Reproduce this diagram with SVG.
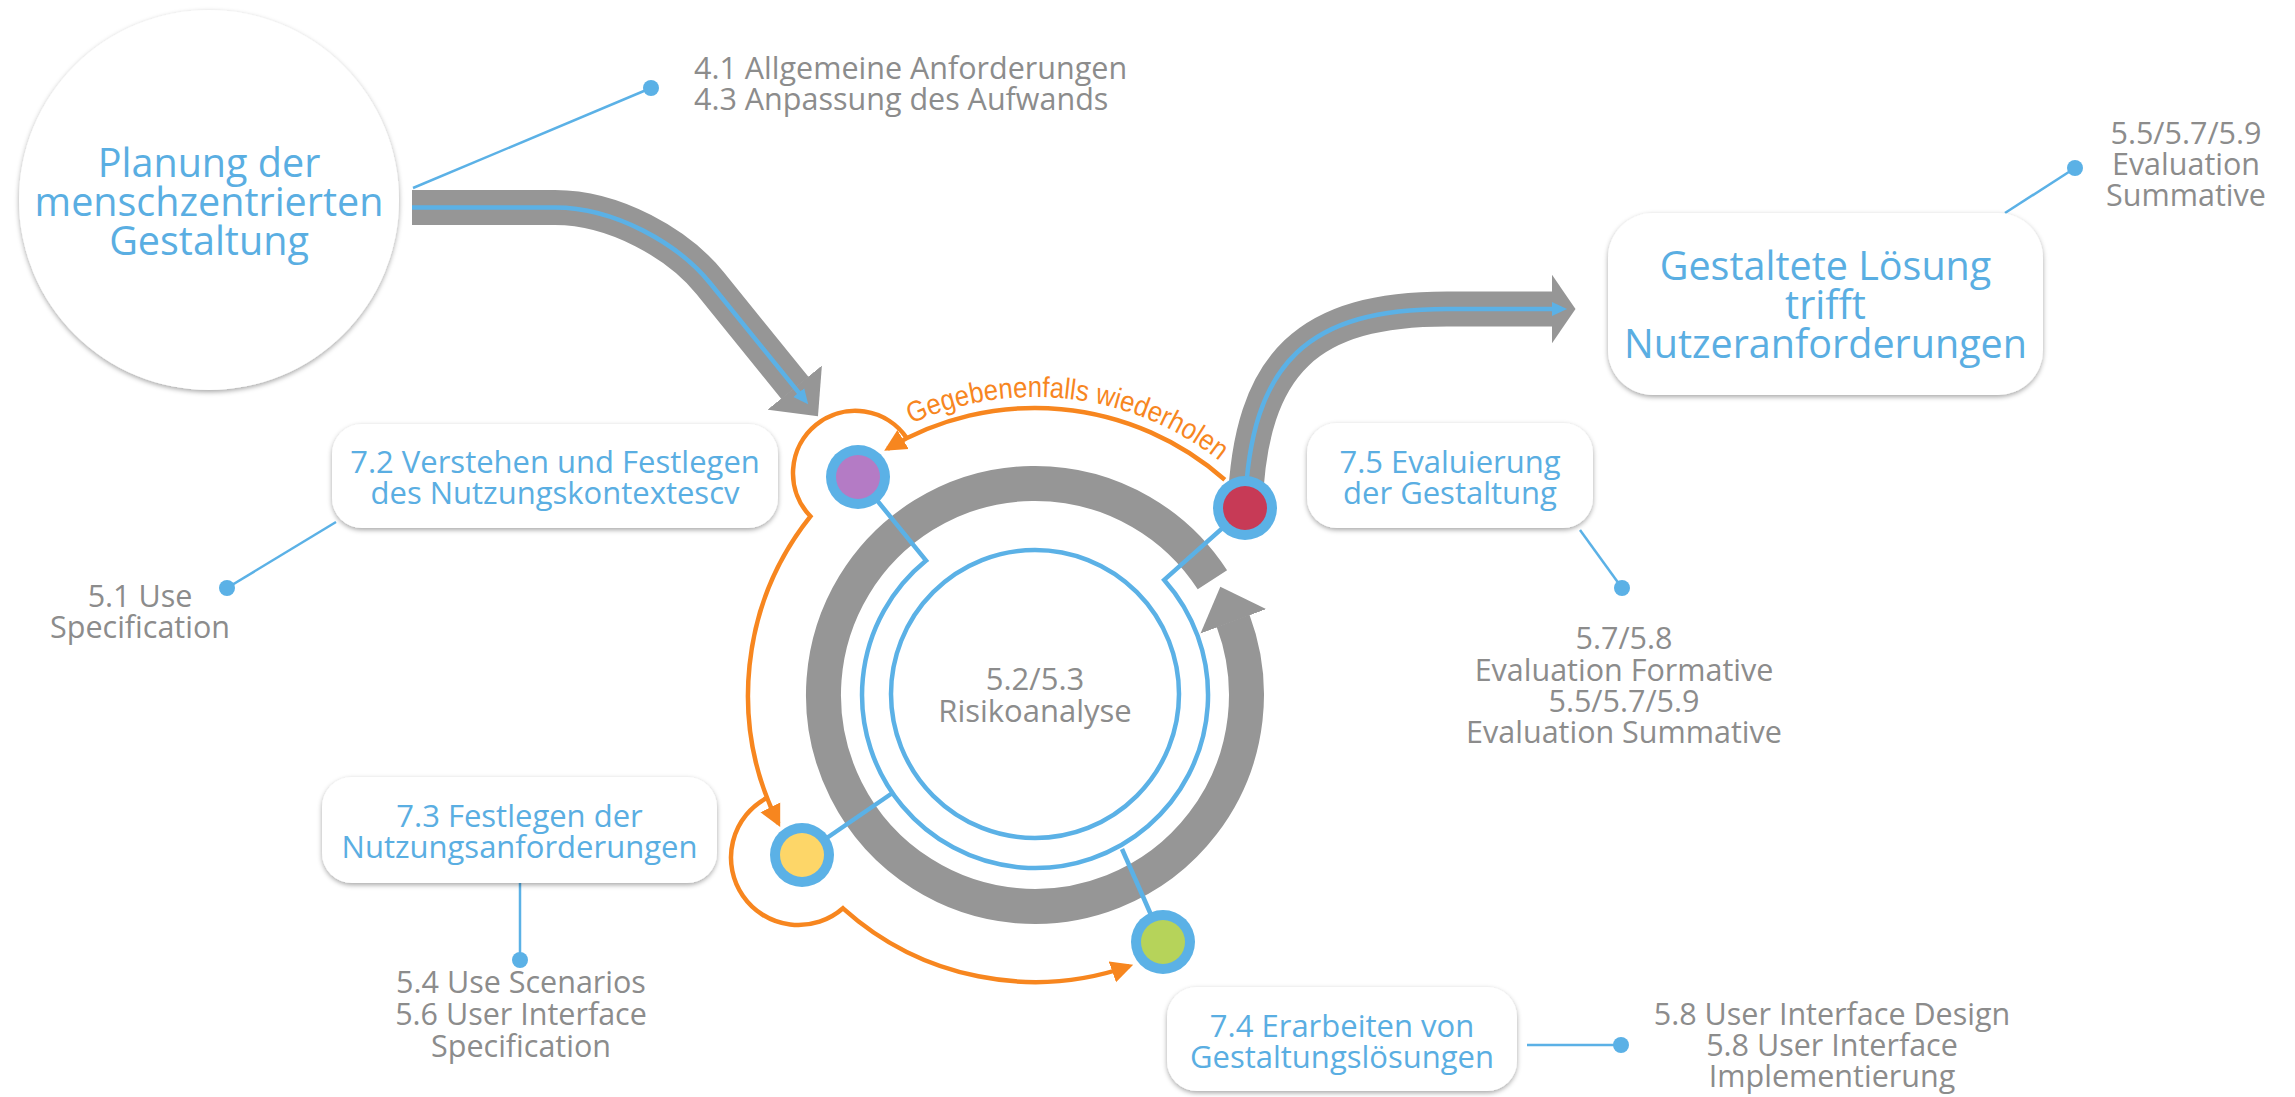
<svg xmlns="http://www.w3.org/2000/svg" width="2295" height="1097" viewBox="0 0 2295 1097">
<style>
.lbl{font-family:'Open Sans','Noto Sans',sans-serif;fill:#5aaee2;text-anchor:middle}
.big{font-size:39.5px}
.mid{font-size:31px}
.ann{font-family:'Open Sans','Noto Sans',sans-serif;fill:#8c8c8c;font-size:30.5px;text-anchor:middle}
.box{fill:#fff;filter:url(#sh)}
.gray{fill:none;stroke:#969696;stroke-width:35}
.blue{fill:none;stroke:#5bb1e6;stroke-width:4.5}
.thin{fill:none;stroke:#5bb1e6;stroke-width:2.5}
.orange{fill:none;stroke:#f7861f;stroke-width:4.5}
.dot{fill:#5bb1e6}
.orng-txt{font-family:'Liberation Sans',Arial,sans-serif;font-size:29px;fill:#f7861f}
</style>
<defs>
<filter id="sh" x="-10%" y="-10%" width="120%" height="130%">
<feDropShadow dx="0" dy="2" stdDeviation="2.5" flood-color="#000" flood-opacity="0.35"/>
</filter>
<marker id="grayHeadLong" markerUnits="userSpaceOnUse" markerWidth="38" markerHeight="70" viewBox="0 0 38 70" refX="0.5" refY="35" orient="auto">
<path d="M0,0 L37,35 L0,70 z" fill="#969696"/>
</marker>
<marker id="grayHeadShort" markerUnits="userSpaceOnUse" markerWidth="25" markerHeight="70" viewBox="0 0 25 70" refX="0.5" refY="35" orient="auto">
<path d="M0,0 L24,35 L0,70 z" fill="#969696"/>
</marker>
<marker id="blueHead" markerUnits="userSpaceOnUse" markerWidth="16" markerHeight="16" viewBox="0 0 16 16" refX="2" refY="8" orient="auto">
<path d="M0,1 L15,8 L0,15 z" fill="#5bb1e6"/>
</marker>
<marker id="orangeHead" markerUnits="userSpaceOnUse" markerWidth="24" markerHeight="24" viewBox="0 0 24 24" refX="18" refY="12" orient="auto">
<path d="M0,1 L22,12 L0,23 z" fill="#f7861f"/>
</marker>
<path id="tp" d="M872,445.5 A298,298 0 0 1 1252.4,491.2" fill="none"/>
</defs>
<rect width="2295" height="1097" fill="#fff"/>

<g id="connectors">
<path class="gray" d="M412,207.5 L555,207.5 C615,207.5 678.5,244 710,283 L795,388" marker-end="url(#grayHeadLong)"/>
<path class="blue" d="M412,207.5 L555,207.5 C615,207.5 678.5,244 710,283 L800,394.2" marker-end="url(#blueHead)"/>
<path class="gray" d="M1245,508 C1250,360 1310,309 1447,309 L1552,309" marker-end="url(#grayHeadShort)"/>
<path class="blue" d="M1245,508 C1250,360 1310,309 1447,309 L1554,309" marker-end="url(#blueHead)"/>
<path class="gray" d="M1212.4,579.8 A211.5,211.5 0 1 0 1233.1,620.9" marker-end="url(#grayHeadLong)"/>
<path class="blue" d="M858,477 L926.1,560.6 A173,173 0 1 0 1164.2,579.9 L1245,508"/>
<path class="blue" d="M802,855 L892.4,793"/>
<path class="blue" d="M1163,942 L1122,849"/>
<path class="orange" d="M1224.8,479.7 A287,287 0 0 0 887.6,448.7" marker-end="url(#orangeHead)"/>
<path class="orange" d="M906.9,438.2 A62.3,62.3 0 1 0 810.4,516.3 A287,287 0 0 0 778.4,823.5" marker-end="url(#orangeHead)"/>
<path class="orange" d="M767.1,797.8 A67.5,67.5 0 1 0 843,908.3 A287,287 0 0 0 1129.4,966" marker-end="url(#orangeHead)"/>
<text class="orng-txt"><textPath href="#tp" startOffset="50%" text-anchor="middle" textLength="326" lengthAdjust="spacingAndGlyphs">Gegebenenfalls wiederholen</textPath></text>
<line class="thin" x1="413" y1="188" x2="651" y2="88"/>
<line class="thin" x1="2005" y1="213" x2="2075" y2="168"/>
<line class="thin" x1="336" y1="522" x2="227" y2="588"/>
<line class="thin" x1="520" y1="883" x2="520" y2="960"/>
<line class="thin" x1="1580" y1="530" x2="1622" y2="588"/>
<line class="thin" x1="1527" y1="1045" x2="1621" y2="1045"/>
</g>

<g id="node-planung">
<circle cx="209" cy="200" r="190" fill="#fff" filter="url(#sh)"/>
<text class="lbl big" x="209" y="177"><tspan x="209" y="177">Planung der</tspan><tspan x="209" y="216">menschzentrierten</tspan><tspan x="209" y="255">Gestaltung</tspan></text>
</g>

<g id="node-risiko">
<circle cx="1035" cy="694" r="144" fill="none" stroke="#5bb1e6" stroke-width="4.5"/>
<text class="ann" style="font-size:31px"><tspan x="1035" y="690">5.2/5.3</tspan><tspan x="1035" y="722">Risikoanalyse</tspan></text>
</g>

<g id="node-purple">
<circle cx="858" cy="477" r="32" class="dot"/>
<circle cx="858" cy="477" r="22" fill="#b47bc5"/>
</g>
<g id="node-yellow">
<circle cx="802" cy="855" r="32" class="dot"/>
<circle cx="802" cy="855" r="22" fill="#fdd668"/>
</g>
<g id="node-green">
<circle cx="1163" cy="942" r="32" class="dot"/>
<circle cx="1163" cy="942" r="22" fill="#b6d35a"/>
</g>
<g id="node-red">
<circle cx="1245" cy="508" r="32" class="dot"/>
<circle cx="1245" cy="508" r="22" fill="#c73a56"/>
</g>

<g id="node-72">
<rect class="box" x="332" y="424" width="446" height="104" rx="30"/>
<text class="lbl mid"><tspan x="555" y="473">7.2 Verstehen und Festlegen</tspan><tspan x="555" y="504">des Nutzungskontextescv</tspan></text>
</g>
<g id="node-73">
<rect class="box" x="322" y="777" width="395" height="106" rx="30"/>
<text class="lbl mid"><tspan x="519.5" y="827">7.3 Festlegen der</tspan><tspan x="519.5" y="858">Nutzungsanforderungen</tspan></text>
</g>
<g id="node-74">
<rect class="box" x="1167" y="987" width="350" height="104" rx="30"/>
<text class="lbl mid"><tspan x="1342" y="1037">7.4 Erarbeiten von</tspan><tspan x="1342" y="1068">Gestaltungslösungen</tspan></text>
</g>
<g id="node-75">
<rect class="box" x="1307" y="423" width="286" height="105" rx="30"/>
<text class="lbl mid"><tspan x="1450" y="472.5">7.5 Evaluierung</tspan><tspan x="1450" y="503.5">der Gestaltung</tspan></text>
</g>
<g id="node-loesung">
<rect class="box" x="1608" y="213" width="435" height="182" rx="45"/>
<text class="lbl big"><tspan x="1825.5" y="280">Gestaltete Lösung</tspan><tspan x="1825.5" y="319">trifft</tspan><tspan x="1825.5" y="358">Nutzeranforderungen</tspan></text>
</g>

<g id="ann-41">
<circle cx="651" cy="88" r="8" class="dot"/>
<text class="ann" style="text-anchor:start"><tspan x="694" y="79">4.1 Allgemeine Anforderungen</tspan><tspan x="694" y="110">4.3 Anpassung des Aufwands</tspan></text>
</g>
<g id="ann-summative">
<circle cx="2075" cy="168" r="8" class="dot"/>
<text class="ann"><tspan x="2186" y="144">5.5/5.7/5.9</tspan><tspan x="2186" y="175">Evaluation</tspan><tspan x="2186" y="206">Summative</tspan></text>
</g>
<g id="ann-51">
<circle cx="227" cy="588" r="8" class="dot"/>
<text class="ann"><tspan x="140" y="607">5.1 Use</tspan><tspan x="140" y="638">Specification</tspan></text>
</g>
<g id="ann-54">
<circle cx="520" cy="960" r="8" class="dot"/>
<text class="ann"><tspan x="521" y="993">5.4 Use Scenarios</tspan><tspan x="521" y="1025">5.6 User Interface</tspan><tspan x="521" y="1057">Specification</tspan></text>
</g>
<g id="ann-57">
<circle cx="1622" cy="588" r="8" class="dot"/>
<text class="ann"><tspan x="1624" y="649">5.7/5.8</tspan><tspan x="1624" y="681">Evaluation Formative</tspan><tspan x="1624" y="712">5.5/5.7/5.9</tspan><tspan x="1624" y="743">Evaluation Summative</tspan></text>
</g>
<g id="ann-58">
<circle cx="1621" cy="1045" r="8" class="dot"/>
<text class="ann"><tspan x="1832" y="1025">5.8 User Interface Design</tspan><tspan x="1832" y="1056">5.8 User Interface</tspan><tspan x="1832" y="1087">Implementierung</tspan></text>
</g>
</svg>
